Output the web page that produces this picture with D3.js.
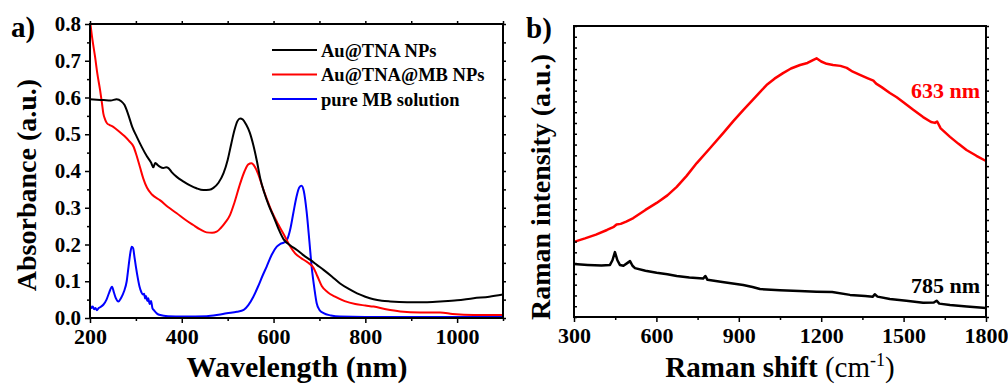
<!DOCTYPE html>
<html>
<head>
<meta charset="utf-8">
<script src="https://cdn.jsdelivr.net/npm/d3@7"></script>
<style>
  body { margin: 0; background: #fff; }
  svg { font-family: "Liberation Serif", "Times New Roman", serif; font-weight: bold; }
  .tick text { font-family: "Liberation Serif", serif; font-weight: bold; }
</style>
</head>
<body>
<svg id="fig" width="1008" height="385"></svg>
<script>
// ---- data: panel a (UV-vis absorbance) ----
const auTna = [[200,0.595],[215,0.594],[230,0.593],[245,0.592],[258,0.595],[268,0.59],[275,0.58],[283,0.555],[292,0.52],[302,0.493],[313,0.465],[324,0.44],[333,0.423],[338,0.41],[342,0.422],[346,0.418],[352,0.412],[360,0.408],[366,0.41],[371,0.408],[378,0.397],[389,0.384],[403,0.372],[418,0.361],[432,0.353],[447,0.348],[460,0.349],[469,0.354],[480,0.368],[491,0.394],[500,0.43],[508,0.475],[515,0.512],[521,0.535],[527,0.543],[533,0.54],[540,0.527],[548,0.505],[556,0.47],[564,0.425],[571,0.38],[580,0.34],[590,0.305],[600,0.276],[611,0.242],[622,0.214],[636,0.198],[651,0.185],[665,0.171],[680,0.158],[695,0.144],[709,0.131],[727,0.113],[745,0.094],[764,0.079],[782,0.067],[800,0.058],[818,0.051],[836,0.047],[854,0.045],[891,0.043],[930,0.043],[963,0.045],[1000,0.048],[1036,0.054],[1070,0.058],[1100,0.064]];

const auTnaMb = [[200,0.81],[205,0.76],[211,0.711],[216,0.665],[222,0.62],[226,0.585],[229,0.557],[233,0.54],[237,0.53],[243,0.525],[248,0.522],[256,0.515],[266,0.505],[275,0.495],[285,0.482],[295,0.466],[302,0.44],[309,0.41],[316,0.38],[324,0.355],[335,0.336],[353,0.32],[370,0.302],[389,0.285],[407,0.268],[425,0.253],[440,0.241],[454,0.233],[466,0.232],[476,0.235],[485,0.245],[495,0.26],[505,0.28],[515,0.315],[527,0.365],[537,0.4],[545,0.418],[552,0.421],[559,0.412],[567,0.39],[575,0.36],[585,0.325],[596,0.29],[610,0.255],[625,0.221],[636,0.195],[647,0.176],[660,0.163],[670,0.155],[678,0.148],[687,0.137],[695,0.115],[705,0.087],[718,0.07],[734,0.058],[755,0.046],[778,0.038],[800,0.034],[818,0.031],[845,0.024],[876,0.018],[920,0.015],[963,0.015],[990,0.011],[1036,0.008],[1100,0.008]];

const pureMb = [[200,0.035],[203,0.027],[206,0.031],[209,0.024],[212,0.027],[215,0.021],[219,0.027],[223,0.03],[229,0.036],[236,0.05],[242,0.07],[248,0.085],[252,0.07],[256,0.055],[262,0.045],[268,0.055],[274,0.072],[280,0.1],[284,0.14],[288,0.178],[291,0.194],[294,0.19],[297,0.165],[300,0.14],[304,0.11],[308,0.085],[312,0.07],[315,0.064],[318,0.066],[320,0.053],[322,0.06],[325,0.046],[327,0.054],[330,0.038],[333,0.046],[336,0.027],[340,0.02],[346,0.012],[353,0.008],[370,0.005],[404,0.004],[454,0.005],[480,0.009],[498,0.013],[520,0.017],[535,0.022],[545,0.035],[556,0.058],[566,0.085],[576,0.115],[585,0.14],[596,0.172],[607,0.194],[615,0.202],[622,0.205],[630,0.215],[637,0.245],[643,0.285],[650,0.33],[656,0.355],[661,0.36],[666,0.345],[672,0.29],[678,0.21],[683,0.14],[689,0.08],[694,0.04],[700,0.022],[709,0.013],[725,0.007],[745,0.004],[800,0.003],[1100,0.003]];

const seriesA = [
  {name: "Au@TNA NPs", color: "#000000", data: auTna},
  {name: "Au@TNA@MB NPs", color: "#ff0000", data: auTnaMb},
  {name: "pure MB solution", color: "#0000ff", data: pureMb}
];
const xTicksA = [200, 400, 600, 800, 1000];
const yTicksA = [0, 0.1, 0.2, 0.3, 0.4, 0.5, 0.6, 0.7, 0.8];

// ---- data: panel b (Raman) ----
const raman633 = [[300,25.8],[340,27.0],[380,28.3],[420,29.9],[445,31.0],[455,31.8],[470,32.0],[490,32.8],[516,34.0],[560,36.8],[601,39.2],[640,41.8],[674,44.7],[710,48.5],[747,52.9],[795,58.0],[843,63.2],[880,67.3],[916,71.1],[950,74.5],[977,77.3],[1001,79.7],[1030,81.9],[1061,83.8],[1090,85.4],[1123,86.6],[1150,87.3],[1170,88.3],[1183,88.9],[1200,87.8],[1220,87.0],[1243,86.6],[1270,86.3],[1293,85.6],[1315,84.3],[1341,83.2],[1370,82.0],[1390,81.2],[1400,80.2],[1420,79.0],[1450,77.0],[1475,75.5],[1498,73.9],[1535,71.2],[1571,68.7],[1600,67.0],[1614,66.7],[1622,67.2],[1635,64.8],[1669,61.9],[1700,59.5],[1729,57.4],[1765,55.4],[1800,53.6]];

const raman785 = [[300,18.2],[350,17.9],[400,17.7],[431,17.9],[440,19.5],[449,22.3],[458,19.5],[467,17.9],[480,17.6],[495,18.6],[504,19.2],[513,17.6],[522,16.8],[560,15.9],[601,15.2],[640,14.7],[674,14.1],[720,13.6],[770,13.2],[778,14.1],[786,12.8],[840,12.0],[916,11.0],[950,10.3],[977,9.6],[1050,9.2],[1120,8.9],[1183,8.7],[1240,8.6],[1305,7.6],[1360,7.2],[1388,7.0],[1395,7.8],[1405,7.0],[1450,6.2],[1510,5.6],[1571,4.9],[1610,5.0],[1620,5.6],[1630,4.6],[1669,4.1],[1730,3.6],[1800,3.1]];

const seriesB = [
  {name: "633 nm", color: "#ff0000", data: raman633},
  {name: "785 nm", color: "#000000", data: raman785}
];
const xTicksB = [300, 600, 900, 1200, 1500, 1800];

const svg = d3.select("#fig");

// small helper: tick axes without domain line
function drawTicks(g, axis, transform, withLabels, fontSize) {
  const a = g.append("g").attr("transform", transform).call(axis);
  a.select(".domain").remove();
  a.selectAll("line").attr("stroke", "#000").attr("stroke-width", 1.5);
  if (!withLabels) a.selectAll("text").remove();
  else a.selectAll("text").attr("font-size", fontSize).attr("fill", "#000");
  return a;
}

// ================= panel a =================
const A = {left: 90, right: 503, top: 24, bottom: 318};
const xA = d3.scaleLinear().domain([200, 1100]).range([A.left, A.right]);
const yA = d3.scaleLinear().domain([0, 0.8]).range([A.bottom, A.top]);
const ga = svg.append("g");

svg.append("clipPath").attr("id", "clipA")
  .append("rect").attr("x", A.left).attr("y", A.top - 1)
  .attr("width", A.right - A.left).attr("height", A.bottom - A.top + 1);

const lineA = d3.line().x(d => xA(d[0])).y(d => yA(d[1])).curve(d3.curveMonotoneX);
ga.append("g").attr("clip-path", "url(#clipA)")
  .selectAll("path").data(seriesA.slice().reverse()).enter().append("path")
  .attr("d", d => lineA(d.data))
  .attr("fill", "none")
  .attr("stroke", d => d.color)
  .attr("stroke-width", 2);

// ticks
drawTicks(ga, d3.axisBottom(xA).tickValues(xTicksA).tickSize(5).tickPadding(5).tickFormat(d3.format("d")),
  `translate(0,${A.bottom})`, true, 22);
drawTicks(ga, d3.axisBottom(xA).tickValues(d3.range(300, 1101, 200)).tickSize(3).tickFormat(""),
  `translate(0,${A.bottom})`, false);
drawTicks(ga, d3.axisTop(xA).tickValues(d3.range(200, 1101, 100)).tickSize(3).tickFormat(""),
  `translate(0,${A.top})`, false);
drawTicks(ga, d3.axisLeft(yA).tickValues(yTicksA).tickSize(5).tickPadding(4).tickFormat(d3.format(".1f")),
  `translate(${A.left},0)`, true, 21);
drawTicks(ga, d3.axisLeft(yA).tickValues(d3.range(0.05, 0.8, 0.1)).tickSize(3).tickFormat(""),
  `translate(${A.left},0)`, false);
drawTicks(ga, d3.axisRight(yA).tickValues(d3.range(0, 0.81, 0.05)).tickSize(3).tickFormat(""),
  `translate(${A.right},0)`, false);

ga.append("rect").attr("x", A.left).attr("y", A.top)
  .attr("width", A.right - A.left).attr("height", A.bottom - A.top)
  .attr("fill", "none").attr("stroke", "#000").attr("stroke-width", 2);

// legend
const leg = ga.append("g").attr("transform", "translate(272,50)");
const legItem = leg.selectAll("g").data(seriesA).enter().append("g")
  .attr("transform", (d, i) => `translate(0,${i * 24.5})`);
legItem.append("line").attr("x1", 0).attr("x2", 45).attr("y1", 0).attr("y2", 0)
  .attr("stroke", d => d.color).attr("stroke-width", 2);
legItem.append("text").attr("x", 49).attr("y", 6.5).attr("font-size", 18.5)
  .text(d => d.name);

// labels
ga.append("text").attr("x", 297).attr("y", 377).attr("text-anchor", "middle")
  .attr("font-size", 30).text("Wavelength (nm)");
ga.append("text").attr("transform", "translate(36,185) rotate(-90)").attr("text-anchor", "middle")
  .attr("font-size", 28).text("Absorbance (a.u.)");
ga.append("text").attr("x", 11).attr("y", 37).attr("font-size", 29).text("a)");

// ================= panel b =================
const B = {left: 574, right: 986, top: 26, bottom: 317};
const xB = d3.scaleLinear().domain([300, 1800]).range([B.left, B.right]);
const yB = d3.scaleLinear().domain([0, 100]).range([B.bottom, B.top]);
const gb = svg.append("g");

const lineB = d3.line().x(d => xB(d[0])).y(d => yB(d[1]));
gb.selectAll("path.raman").data(seriesB).enter().append("path")
  .attr("class", "raman")
  .attr("d", d => lineB(d.data))
  .attr("fill", "none")
  .attr("stroke", d => d.color)
  .attr("stroke-width", 2.5)
  .attr("stroke-linejoin", "round");

const yMinorB = d3.range(0, 28).map(i => i * 100 / 27);
drawTicks(gb, d3.axisBottom(xB).tickValues(xTicksB).tickSize(5).tickPadding(5).tickFormat(d3.format("d")),
  `translate(0,${B.bottom})`, true, 22);
drawTicks(gb, d3.axisBottom(xB).tickValues(d3.range(450, 1800, 300)).tickSize(3).tickFormat(""),
  `translate(0,${B.bottom})`, false);
drawTicks(gb, d3.axisRight(yB).tickValues(yMinorB).tickSize(3).tickFormat(""),
  `translate(${B.left},0)`, false);
drawTicks(gb, d3.axisRight(yB).tickValues(yMinorB).tickSize(3).tickFormat(""),
  `translate(${B.right},0)`, false);

gb.append("rect").attr("x", B.left).attr("y", B.top)
  .attr("width", B.right - B.left).attr("height", B.bottom - B.top)
  .attr("fill", "none").attr("stroke", "#000").attr("stroke-width", 2);

gb.selectAll("text.lab").data(seriesB).enter().append("text")
  .attr("class", "lab")
  .attr("x", 980)
  .attr("y", d => d.name === "633 nm" ? 98 : 293)
  .attr("text-anchor", "end")
  .attr("font-size", 22)
  .attr("fill", d => d.color)
  .text(d => d.name);

const xl = gb.append("text").attr("x", 780).attr("y", 377).attr("text-anchor", "middle")
  .attr("font-size", 29);
xl.append("tspan").text("Raman shift ");
xl.append("tspan").attr("font-weight", "normal").text("(cm");
xl.append("tspan").attr("font-weight", "normal").attr("font-size", 18).attr("dy", -11).text("-1");
xl.append("tspan").attr("font-weight", "normal").attr("dy", 11).text(")");

gb.append("text").attr("transform", "translate(550,187) rotate(-90)").attr("text-anchor", "middle")
  .attr("font-size", 28).text("Raman intensity (a.u.)");
gb.append("text").attr("x", 526).attr("y", 38).attr("font-size", 29).text("b)");
</script>
</body>
</html>
